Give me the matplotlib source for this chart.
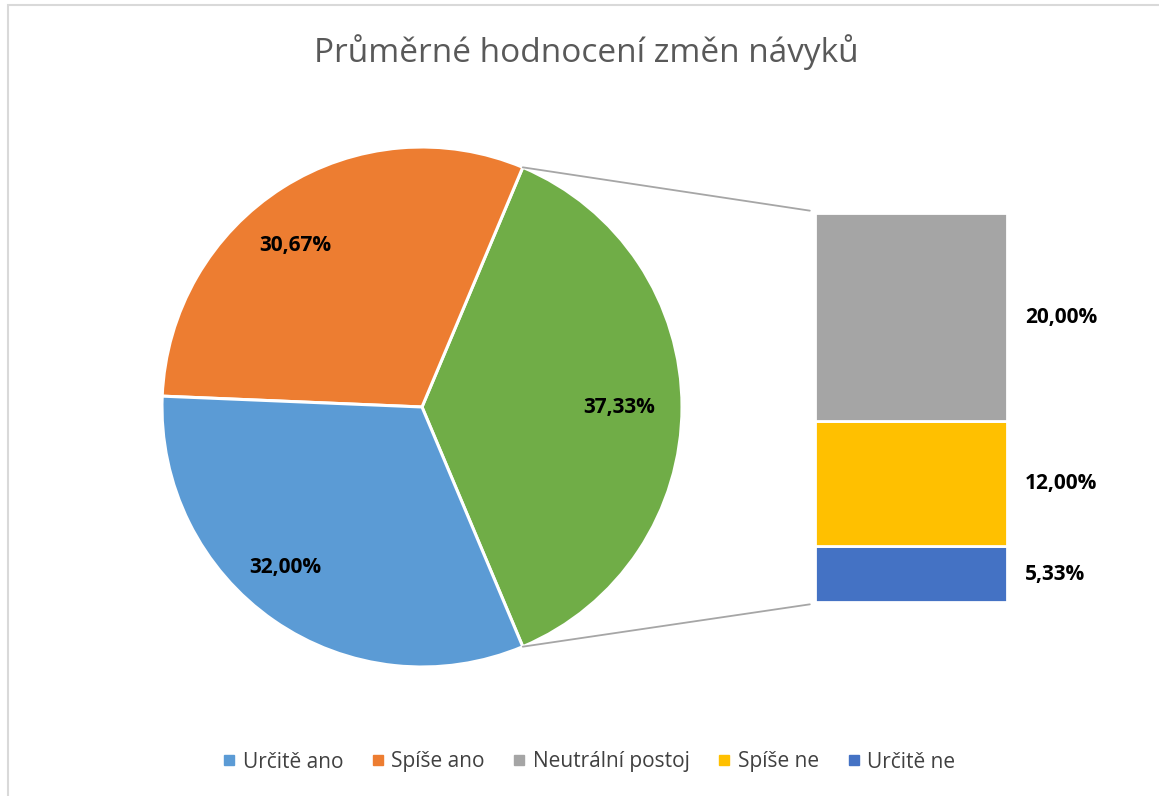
import matplotlib
matplotlib.use("Agg")
import matplotlib.pyplot as plt
from matplotlib.lines import Line2D
from matplotlib.patches import ConnectionPatch, Rectangle
import numpy as np

plt.rcParams['font.family'] = ['Open Sans', 'DejaVu Sans']

# data
categories = ["Určitě ano", "Spíše ano", "Neutrální postoj", "Spíše ne", "Určitě ne"]
values = [32.00, 30.67, 20.00, 12.00, 5.33]
colors = ["#5b9bd5", "#ed7d31", "#a5a5a5", "#ffc000", "#4472c4"]
other_color = "#70ad47"

title = "Průměrné hodnocení změn návyků"

def fmt(v):
    return f"{v:.2f}".replace(".", ",") + "%"

W, H = 1159, 796
fig = plt.figure(figsize=(W / 100, H / 100), dpi=100)

# pie: main slices + "other" slice made of the last three categories
other = sum(values[2:])
pie_vals = [other, values[1], values[0]]
pie_cols = [other_color, colors[1], colors[0]]
start = -other / 100 * 360 / 2

cx, cy, r = 422, 407, 260
ax_pie = fig.add_axes([(cx - r) / W, (H - cy - r) / H, 2 * r / W, 2 * r / H])
wedges, _ = ax_pie.pie(pie_vals, colors=pie_cols, startangle=start, counterclock=True,
                       wedgeprops=dict(edgecolor="white", linewidth=2.2))
ax_pie.set_xlim(-1, 1)
ax_pie.set_ylim(-1, 1)
ax_pie.set_aspect("equal")
ax_pie.axis("off")

# label positions (angle deg, radius) for each pie wedge
label_pos = [(0, 0.76), (128, 0.79), (229.5, 0.81)]
for v, (ang, rr) in zip(pie_vals, label_pos):
    a = np.deg2rad(ang)
    ax_pie.text(rr * np.cos(a), rr * np.sin(a), fmt(v), ha="center", va="center",
                fontsize=15, fontweight="bold", color="black")

# stacked bar for the "other" part
bx0, bx1, by0, by1 = 815, 1007, 213, 602
ax_bar = fig.add_axes([bx0 / W, (H - by1) / H, (bx1 - bx0) / W, (by1 - by0) / H])
bottom = 0
for v, c in zip(values[:1:-1], colors[:1:-1]):
    ax_bar.bar(0, v, bottom=bottom, width=1, color=c, edgecolor="white", linewidth=2)
    ax_bar.text(0.595, bottom + v / 2, fmt(v), ha="left", va="center",
                fontsize=15, fontweight="bold", color="black", clip_on=False)
    bottom += v
ax_bar.set_xlim(-0.5, 0.5)
ax_bar.set_ylim(0, other)
ax_bar.axis("off")

# connector lines
t1 = np.deg2rad(wedges[0].theta1)
t2 = np.deg2rad(wedges[0].theta2)
for t, yb in [(t2, 1.006), (t1, -0.006)]:
    con = ConnectionPatch(xyA=(np.cos(t), np.sin(t)), coordsA="data", axesA=ax_pie,
                          xyB=(-0.027, yb), coordsB="axes fraction", axesB=ax_bar,
                          color="#a6a6a6", linewidth=1.3)
    fig.add_artist(con)

fig.text(586 / W, (H - 52) / H, title, ha="center", va="center", fontsize=24, color="#595959")

handles = [Line2D([], [], marker="s", linestyle="none", markersize=7,
                  markerfacecolor=c, markeredgecolor=c) for c in colors]
fig.legend(handles, categories, loc="center", bbox_to_anchor=(589 / W, (H - 762) / H),
           ncol=5, frameon=False, fontsize=15, labelcolor="#404040",
           handlelength=0.6, handletextpad=0.35, columnspacing=1.36)

fig.add_artist(Rectangle((8 / W, -0.05), 1.1, 1 - 5 / H + 0.05, fill=False,
                         edgecolor="#d9d9d9", linewidth=1.5, transform=fig.transFigure))

fig.savefig("out.png", dpi=100)
